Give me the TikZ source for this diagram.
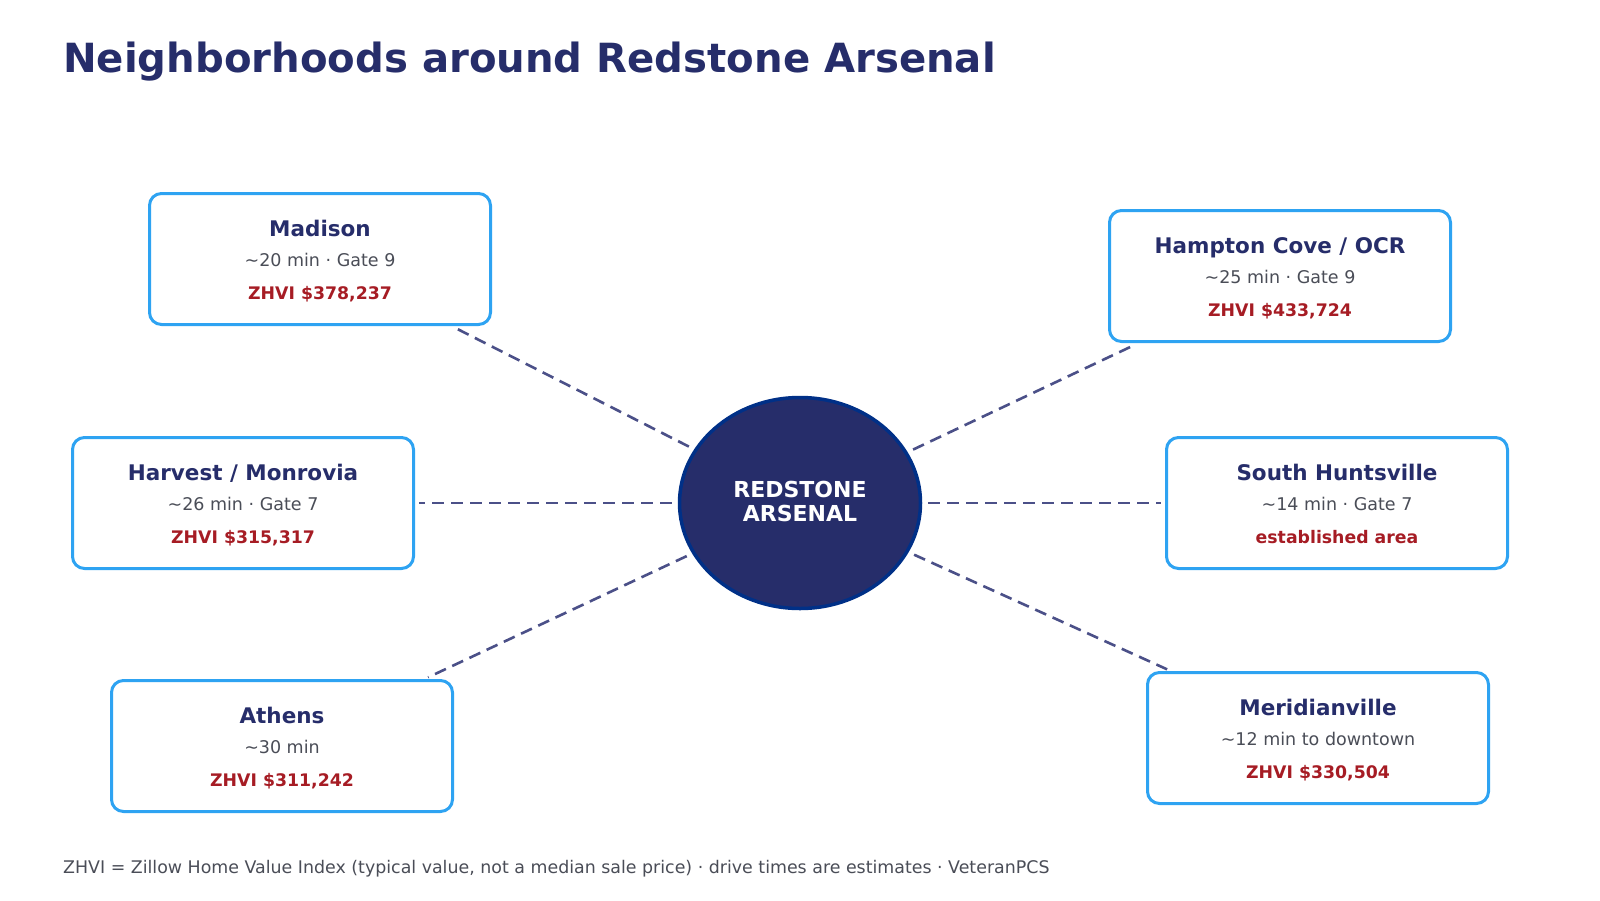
\documentclass[tikz,border=0pt]{standalone}
\usepackage{fontspec}
\setmainfont{DejaVu Sans}
\usetikzlibrary{shapes.geometric}

\definecolor{navy}{HTML}{262D6A}
\definecolor{hubrim}{HTML}{003087}
\definecolor{boxblue}{HTML}{2EA3F2}
\definecolor{zred}{HTML}{A61C24}
\definecolor{subgray}{HTML}{4A4D57}
\definecolor{linkgray}{HTML}{4B5088}

% first and last line of a box, with fixed height / depth
\newcommand{\hoodname}[1]{{\fontsize{21.5}{30}\selectfont\bfseries\color{navy}\rule{0pt}{22pt}#1}}
\newcommand{\hoodval}[1]{{\fontsize{17.3}{30}\selectfont\bfseries\color{zred}#1\rule[-4.4pt]{0pt}{4.4pt}}}

\begin{document}
\begin{tikzpicture}[x=1pt,y=-1pt,
  hood/.style={draw=boxblue,line width=3pt,rounded corners=12pt,fill=white,
               minimum width=341pt,minimum height=131pt,align=center,
               font=\fontsize{17.5}{30}\selectfont,text=subgray},
  hub/.style={ellipse,draw=hubrim,line width=3.5pt,fill=navy,minimum width=241pt,
              minimum height=211pt,inner sep=0pt,align=center,text=white,
              font=\fontsize{22}{23.5}\selectfont\bfseries},
  link/.style={draw=linkgray,line width=2.6pt,dash pattern=on 12pt off 7pt,
               shorten <=6pt,shorten >=4pt}
]
\useasboundingbox[fill=white] (0,0) rectangle (1600,900);

\node[anchor=base west,inner sep=0pt,text=navy,font=\fontsize{40.2}{48}\selectfont\bfseries]
  (title) at (63,72) {Neighborhoods around Redstone Arsenal};

\node[hub] (arsenal) at (800,503) {REDSTONE\\ARSENAL\rule[-3pt]{0pt}{3pt}};

\node[hood] (madison) at (320,259)  {\hoodname{Madison}\\\textasciitilde20 min · Gate 9\\[2.6pt]\hoodval{ZHVI \$378,237}};
\node[hood] (hampton) at (1280,276) {\hoodname{Hampton Cove / OCR}\\\textasciitilde25 min · Gate 9\\[2.6pt]\hoodval{ZHVI \$433,724}};
\node[hood] (harvest) at (243,503)  {\hoodname{Harvest / Monrovia}\\\textasciitilde26 min · Gate 7\\[2.6pt]\hoodval{ZHVI \$315,317}};
\node[hood] (southhsv) at (1337,503) {\hoodname{South Huntsville}\\\textasciitilde14 min · Gate 7\\[2.6pt]\hoodval{established area}};
\node[hood] (athens) at (282,746)   {\hoodname{Athens}\\\textasciitilde30 min\\[2.6pt]\hoodval{ZHVI \$311,242}};
\node[hood] (meridian) at (1318,738) {\hoodname{Meridianville}\\\textasciitilde12 min to downtown\\[2.6pt]\hoodval{ZHVI \$330,504}};

\foreach \n in {madison,hampton,harvest,southhsv,athens,meridian}
  \draw[link] (arsenal) -- (\n);

\node[anchor=base west,inner sep=0pt,text=subgray,font=\fontsize{17.4}{22}\selectfont]
  (footer) at (63,873) {ZHVI = Zillow Home Value Index (typical value, not a median sale price) · drive times are estimates · VeteranPCS};
\end{tikzpicture}
\end{document}
